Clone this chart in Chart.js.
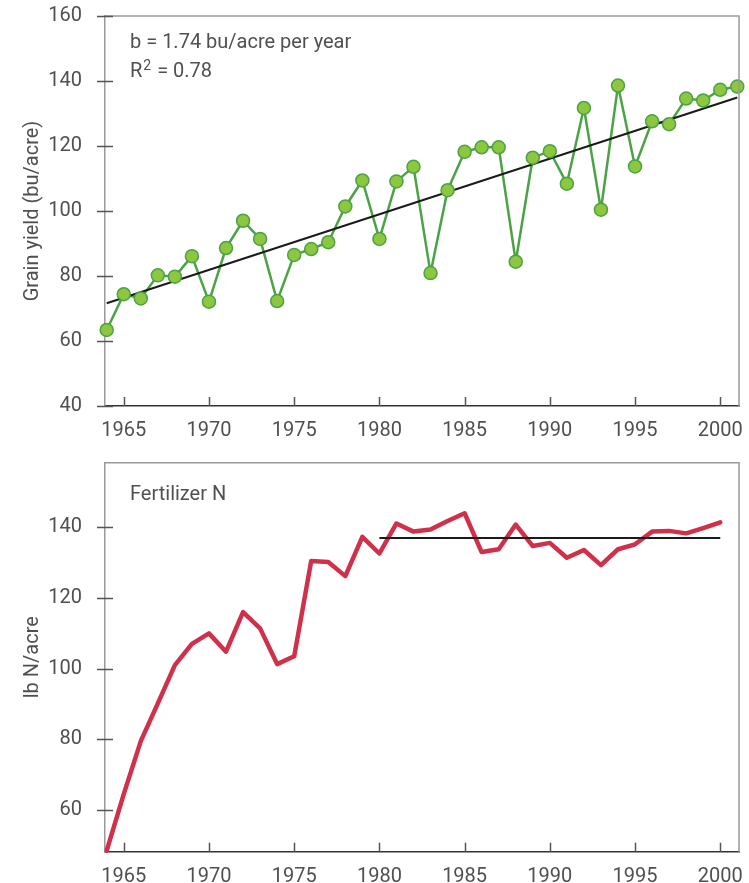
<!DOCTYPE html>
<html>
<head>
<meta charset="utf-8">
<script src="https://cdn.jsdelivr.net/npm/chart.js@4/dist/chart.umd.min.js"></script>
<style>
  body { margin: 0; background: #fff; }
  canvas { display: block; }
</style>
</head>
<body>
<canvas id="yieldChart" width="749" height="440"></canvas>
<canvas id="fertChart" width="749" height="443"></canvas>
<script>
// grain yield, 1964-2001 (bu/acre)
var yieldYears = [1964, 1965, 1966, 1967, 1968, 1969, 1970, 1971, 1972, 1973, 1974, 1975, 1976,
	1977, 1978, 1979, 1980, 1981, 1982, 1983, 1984, 1985, 1986, 1987, 1988, 1989, 1990, 1991,
	1992, 1993, 1994, 1995, 1996, 1997, 1998, 1999, 2000, 2001];
var yieldValues = [63.4, 74.4, 73.1, 80.2, 79.8, 86.1, 72.1, 88.6, 97.0, 91.4, 72.3, 86.5, 88.3,
	90.4, 101.4, 109.4, 91.4, 109.1, 113.6, 80.9, 106.4, 118.2, 119.6, 119.6, 84.4, 116.4, 118.4, 108.4,
	131.7, 100.4, 138.6, 113.7, 127.6, 126.7, 134.6, 134.0, 137.3, 138.3];
// regression line end points
var trendYears = [1964, 2001];
var trendValues = [71.6, 134.9];

// fertilizer N, 1964-2000 (lb N/acre)
var fertYears = [1964, 1965, 1966, 1967, 1968, 1969, 1970, 1971, 1972, 1973, 1974, 1975, 1976,
	1977, 1978, 1979, 1980, 1981, 1982, 1983, 1984, 1985, 1986, 1987, 1988, 1989, 1990, 1991,
	1992, 1993, 1994, 1995, 1996, 1997, 1998, 1999, 2000];
var fertValues = [48.5, 64.5, 79.5, 90.2, 101, 107, 110, 104.8, 116, 111.4, 101.3, 103.5, 130.5,
	130.2, 126.2, 137.3, 132.6, 141.1, 138.8, 139.4, 141.8, 144, 133, 133.8, 140.8, 134.7, 135.6, 131.4,
	133.6, 129.3, 133.8, 135.2, 138.8, 139, 138.3, 139.8, 141.4];
var meanYears = [1980, 2000];
var meanValues = [137, 137];

var xTicks = [1965, 1970, 1975, 1980, 1985, 1990, 1995, 2000];
var yieldTicks = [40, 60, 80, 100, 120, 140, 160];
var fertTicks = [60, 80, 100, 120, 140];

function pts(xs, ys) {
	var out = [];
	for (var i = 0; i < xs.length; i++) {
		out.push({ x: xs[i], y: ys[i] });
	}
	return out;
}

Chart.defaults.font.family = "Roboto, 'Open Sans', sans-serif";
Chart.defaults.font.size = 20;
Chart.defaults.color = "#505050";

// top/right frame and tick marks
var frame = {
	id: "frame",
	afterDraw: function(chart) {
		var ctx = chart.ctx;
		var a = chart.chartArea;
		var xs = chart.scales.x, ys = chart.scales.y;
		ctx.save();
		ctx.lineWidth = 1.5;
		ctx.strokeStyle = "#9a9a9a";
		ctx.beginPath();
		ctx.moveTo(a.left, a.top);
		ctx.lineTo(a.right, a.top);
		ctx.lineTo(a.right, a.bottom);
		ctx.stroke();
		ctx.strokeStyle = "#555";
		ctx.beginPath();
		ys.ticks.forEach(function(t) {
			var y = Math.round(ys.getPixelForValue(t.value)) + 0.5;
			ctx.moveTo(a.left - 8, y);
			ctx.lineTo(a.left + 8, y);
		});
		xs.ticks.forEach(function(t) {
			var x = Math.round(xs.getPixelForValue(t.value)) + 0.5;
			ctx.moveTo(x, a.bottom);
			ctx.lineTo(x, a.bottom - 9);
		});
		ctx.stroke();
		ctx.restore();
	}
};

function xScale(tickList, axisHeight) {
	return {
		type: "linear",
		min: 1963.9,
		max: 2001.1,
		afterBuildTicks: function(s) {
			s.ticks = tickList.map(function(v) { return { value: v }; });
		},
		afterFit: function(s) {
			s.height = axisHeight;
			s.paddingLeft = 0;
			s.paddingRight = 0;
		},
		grid: { display: false },
		border: { display: true, color: "#333", width: 1.5 },
		ticks: {
			padding: 5,
			autoSkip: false,
			maxRotation: 0,
			callback: function(v) { return String(v); }
		}
	};
}

function yScale(min, max, tickList, title) {
	return {
		type: "linear",
		min: min,
		max: max,
		afterBuildTicks: function(s) {
			s.ticks = tickList.map(function(v) { return { value: v }; });
		},
		afterFit: function(s) {
			s.width = 105;
			s.paddingTop = 0;
			s.paddingBottom = 0;
		},
		grid: { display: false },
		border: { display: true, color: "#9a9a9a", width: 1.5 },
		ticks: { padding: 15 },
		title: {
			display: true,
			text: title,
			padding: { top: 21, bottom: 0 },
			font: { size: 20 }
		}
	};
}

// text notes inside the top panel
var yieldNotes = {
	id: "yieldNotes",
	afterDraw: function(chart) {
		var ctx = chart.ctx;
		ctx.save();
		ctx.fillStyle = "#505050";
		ctx.textBaseline = "alphabetic";
		ctx.font = "20px Roboto, 'Open Sans', sans-serif";
		ctx.fillText("b = 1.74 bu/acre per year", 130, 48);
		ctx.fillText("R", 130, 77);
		var w = ctx.measureText("R").width;
		ctx.font = "14px Roboto, 'Open Sans', sans-serif";
		ctx.fillText("2", 130 + w + 1, 70);
		var w2 = ctx.measureText("2").width;
		ctx.font = "20px Roboto, 'Open Sans', sans-serif";
		ctx.fillText(" = 0.78", 130 + w + w2 + 2, 77);
		ctx.restore();
	}
};

var fertNotes = {
	id: "fertNotes",
	afterDraw: function(chart) {
		var ctx = chart.ctx;
		ctx.save();
		ctx.fillStyle = "#505050";
		ctx.textBaseline = "alphabetic";
		ctx.font = "20px Roboto, 'Open Sans', sans-serif";
		ctx.fillText("Fertilizer N", 130, 60);
		ctx.restore();
	}
};

var yieldChart = new Chart(document.getElementById("yieldChart"), {
	type: "line",
	data: {
		datasets: [
			{
				label: "points",
				data: pts(yieldYears, yieldValues),
				showLine: false,
				pointRadius: 6.5,
				pointBackgroundColor: "#8dc63f",
				pointBorderColor: "#4ba345",
				pointBorderWidth: 1.5,
				clip: false
			},
			{
				label: "trend",
				data: pts(trendYears, trendValues),
				borderColor: "#1a1a1a",
				borderWidth: 2,
				pointRadius: 0,
				tension: 0,
				clip: false
			},
			{
				label: "yield",
				data: pts(yieldYears, yieldValues),
				borderColor: "#4ba345",
				borderWidth: 2.5,
				pointRadius: 0,
				tension: 0,
				clip: false
			}
		]
	},
	options: {
		responsive: false,
		animation: false,
		layout: { padding: { top: 16, right: 10, left: 0, bottom: 0 } },
		plugins: { legend: { display: false }, tooltip: { enabled: false } },
		scales: {
			x: xScale(xTicks, 34),
			y: yScale(40, 160, yieldTicks, "Grain yield (bu/acre)")
		}
	},
	plugins: [frame, yieldNotes]
});

var fertChart = new Chart(document.getElementById("fertChart"), {
	type: "line",
	data: {
		datasets: [
			{
				label: "mean",
				data: pts(meanYears, meanValues),
				borderColor: "#1a1a1a",
				borderWidth: 2,
				pointRadius: 0,
				tension: 0
			},
			{
				label: "Fertilizer N",
				data: pts(fertYears, fertValues),
				borderColor: "#d0304a",
				borderWidth: 4.5,
				borderJoinStyle: "round",
				borderCapStyle: "round",
				pointRadius: 0,
				tension: 0,
				clip: false
			}
		]
	},
	options: {
		responsive: false,
		animation: false,
		layout: { padding: { top: 22.7, right: 10, left: 0, bottom: 0 } },
		plugins: { legend: { display: false }, tooltip: { enabled: false } },
		scales: {
			x: xScale(xTicks, 31.3),
			y: yScale(48.2, 158.3, fertTicks, "lb N/acre")
		}
	},
	plugins: [frame, fertNotes]
});
</script>
</body>
</html>
